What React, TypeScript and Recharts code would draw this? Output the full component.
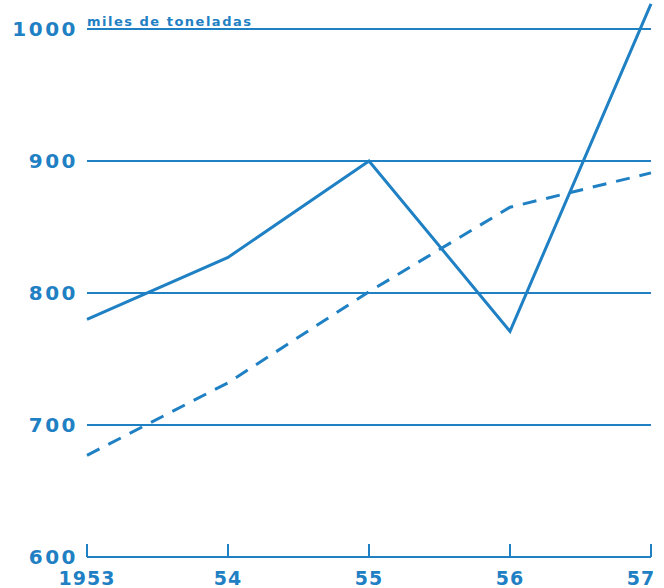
import React from 'react';
import { LineChart, Line, XAxis, YAxis, ReferenceLine } from 'recharts';

const years = ['1953', '54', '55', '56', '57'];
const solidSeries = [780, 827, 900, 771, 1019];
const dashedSeries = [677, 732, 801, 865, 891];
const yTicks = [600, 700, 800, 900, 1000];
const gridValues = [700, 800, 900, 1000];
const unitLabel = 'miles de toneladas';

const BLUE = '#1f80c4';
const FONT = '"DejaVu Sans", Verdana, sans-serif';

const data = years.map((year, i) => ({
  year,
  solid: solidSeries[i],
  dashed: dashedSeries[i],
}));

const XTick = (props: any) => {
  const { x, y, payload, index } = props;
  // last label sits against the right edge, like the printed chart
  const shift = index === years.length - 1 ? -10 : 0;
  return (
    <g>
      <line x1={x} x2={x} y1={y} y2={y - 13} stroke={BLUE} strokeWidth={2} />
      <text
        x={x + shift}
        y={y + 28}
        textAnchor="middle"
        fill={BLUE}
        fontFamily={FONT}
        fontWeight="bold"
        fontSize={19}
        letterSpacing={1}
      >
        {payload.value}
      </text>
    </g>
  );
};

const YTick = (props: any) => {
  const { x, y, payload } = props;
  return (
    <text
      x={x}
      y={y + 7}
      textAnchor="end"
      fill={BLUE}
      fontFamily={FONT}
      fontWeight="bold"
      fontSize={20}
      letterSpacing={2.5}
    >
      {payload.value}
    </text>
  );
};

const UnitLabel = (props: any) => {
  const { viewBox } = props;
  return (
    <text
      x={viewBox.x}
      y={viewBox.y - 3}
      fill={BLUE}
      fontFamily={FONT}
      fontWeight="bold"
      fontSize={13}
      letterSpacing={1.5}
    >
      {unitLabel}
    </text>
  );
};

const App: React.FC = () => {
  return (
    <div style={{ position: 'absolute', left: 0, top: 0, background: '#fff' }}>
      <LineChart width={664} height={588} data={data} margin={{ top: 0, right: 13, bottom: 0, left: 0 }}>
        <XAxis
          dataKey="year"
          height={31}
          tickSize={0}
          tickMargin={0}
          tickLine={false}
          axisLine={{ stroke: BLUE, strokeWidth: 2 }}
          tick={<XTick />}
          interval={0}
        />
        <YAxis
          width={87}
          domain={[600, 1022]}
          ticks={yTicks}
          tickSize={0}
          tickMargin={9}
          axisLine={false}
          tickLine={false}
          tick={<YTick />}
          interval={0}
        />
        {gridValues.map((v) => (
          <ReferenceLine key={v} y={v} stroke={BLUE} strokeWidth={2} />
        ))}
        <ReferenceLine y={1000} stroke="none" label={<UnitLabel />} />
        <Line
          type="linear"
          dataKey="solid"
          stroke={BLUE}
          strokeWidth={3}
          dot={false}
          isAnimationActive={false}
        />
        <Line
          type="linear"
          dataKey="dashed"
          stroke={BLUE}
          strokeWidth={3}
          strokeDasharray="14 10"
          dot={false}
          isAnimationActive={false}
        />
      </LineChart>
    </div>
  );
};

export default App;
